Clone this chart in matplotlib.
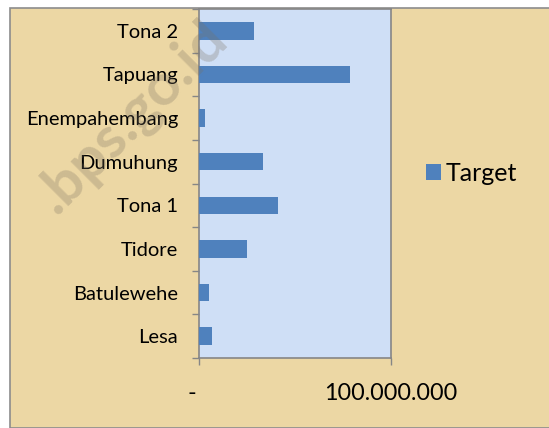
import numpy as np
import matplotlib.pyplot as plt
from matplotlib.patches import Rectangle
from matplotlib.transforms import ScaledTranslation

# data (bottom to top as drawn)
villages = ['Lesa', 'Batulewehe', 'Tidore', 'Tona 1', 'Dumuhung',
            'Enempahembang', 'Tapuang', 'Tona 2']
target = [6.8e6, 5.2e6, 25.2e6, 41.0e6, 33.2e6, 3.0e6, 78.8e6, 28.6e6]
x_ticks = [0, 100e6]
x_labels = ['-', '100.000.000']

plt.rcParams['font.family'] = ['Lato', 'DejaVu Sans']

fig = plt.figure(figsize=(5.49, 4.28), dpi=100)
fig.patch.set_facecolor('white')

# chart area (papyrus look)
bg = Rectangle((10/549, 0), 1, 1 - 8/428, transform=fig.transFigure,
               facecolor='#ecd7a4', edgecolor='#8c8c8c', lw=1.2, zorder=-5)
fig.patches.append(bg)

ax = fig.add_axes([199/549, 70/428, 192/549, 349/428])
ax.set_facecolor('#cfdff6')

y = np.arange(len(villages))
ax.barh(y, target, height=0.4, color='#4f81bd', label='Target', zorder=3)

ax.set_xlim(0, 100e6)
ax.set_ylim(-0.5, len(villages) - 0.5)

ax.set_yticks(y)
ax.set_yticklabels(villages, fontsize=14.5)
ax.set_yticks(np.arange(-0.5, len(villages)), minor=True)
ax.tick_params(axis='y', which='major', length=0, pad=15)
ax.tick_params(axis='y', which='minor', length=5, color='#868686', width=1)

ax.set_xticks(x_ticks)
ax.set_xticklabels(x_labels, fontsize=16.8)
ax.tick_params(axis='x', length=5, color='#868686', width=1, pad=13)
lbl0 = ax.get_xticklabels()[0]
lbl0.set_transform(lbl0.get_transform() + ScaledTranslation(-0.07, 0, fig.dpi_scale_trans))

for s in ax.spines.values():
    s.set_color('#868686')
    s.set_linewidth(1.2)

ax.legend(loc='center left', bbox_to_anchor=(1.065, 0.53), frameon=False,
          fontsize=18, handlelength=0.6, handleheight=0.6, handletextpad=0.2)

# watermark
fig.text(0.24, 0.725, '.bps.go.id', rotation=45, fontsize=42, fontweight='bold',
         color='#7a7060', alpha=0.28, ha='center', va='center', zorder=10)

plt.savefig('out.png', dpi=100)
